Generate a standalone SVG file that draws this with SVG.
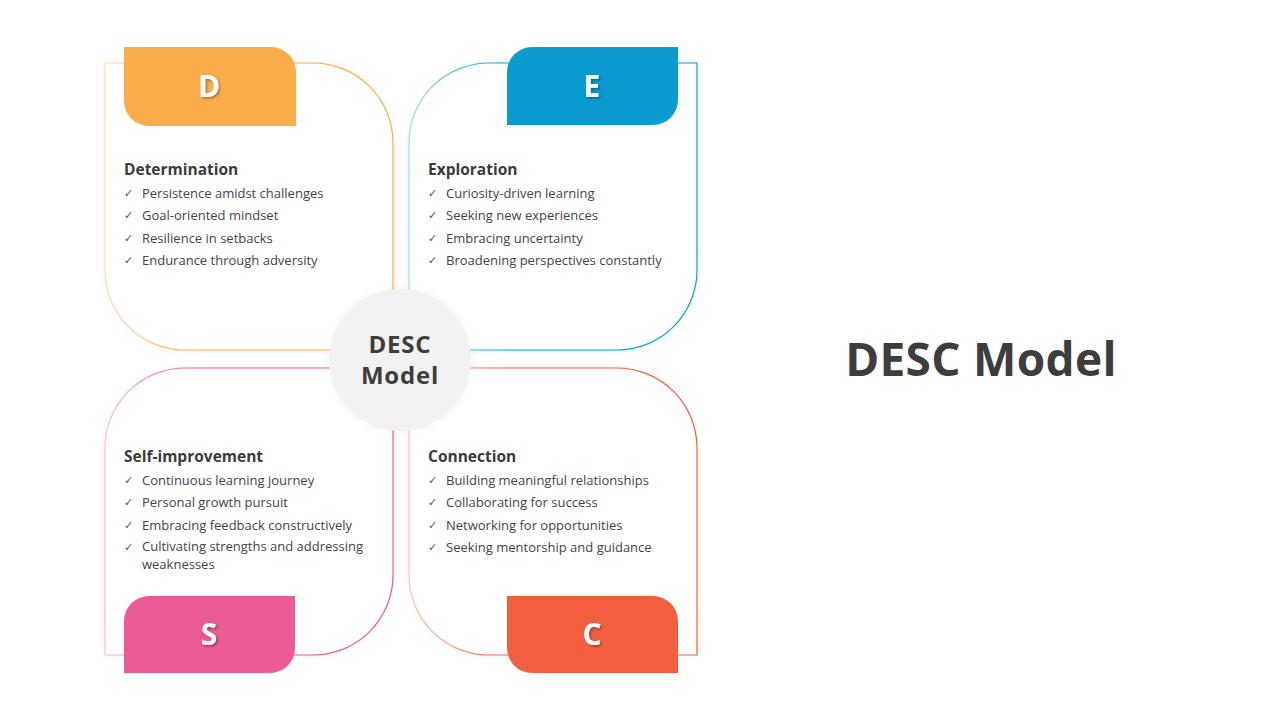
<svg xmlns="http://www.w3.org/2000/svg" width="1280" height="720" viewBox="0 0 1280 720">
<defs>
<style>
.hd{font-family:"Open Sans","Liberation Sans",sans-serif;font-weight:700;font-size:15.5px;fill:#3b3b3b}
.it{font-family:"Open Sans","Liberation Sans",sans-serif;font-size:13px;fill:#444}
.ck{font-family:"DejaVu Sans",sans-serif;font-size:11px;fill:#555}
.tab{font-family:"Open Sans","Liberation Sans",sans-serif;font-weight:700;font-size:30px;fill:#fff;text-anchor:middle}
.ctr{font-family:"Open Sans","Liberation Sans",sans-serif;font-weight:700;font-size:24px;fill:#3d3d3d;text-anchor:middle;letter-spacing:0.8px}
.ttl{font-family:"Open Sans","Liberation Sans",sans-serif;font-weight:700;font-size:46px;fill:#3d3d3d;text-anchor:middle;letter-spacing:0.3px}
.card{fill:#fff;stroke-width:1.2}
</style>
<linearGradient id="gD" x1="0" y1="0" x2="1" y2="0"><stop offset="0" stop-color="#FBAD4C" stop-opacity="0.4"/><stop offset="0.35" stop-color="#FBAD4C"/></linearGradient>
<linearGradient id="gE" x1="0" y1="0" x2="1" y2="0"><stop offset="0" stop-color="#0B9CCF" stop-opacity="0.35"/><stop offset="0.35" stop-color="#0B9CCF"/></linearGradient>
<linearGradient id="gS" x1="0" y1="0" x2="1" y2="0"><stop offset="0" stop-color="#EA5A93" stop-opacity="0.35"/><stop offset="0.35" stop-color="#EA5A93"/></linearGradient>
<linearGradient id="gC" x1="0" y1="0" x2="1" y2="0"><stop offset="0" stop-color="#F25F3E" stop-opacity="0.35"/><stop offset="0.35" stop-color="#F25F3E"/></linearGradient>
<filter id="sh" x="-20%" y="-20%" width="140%" height="140%"><feDropShadow dx="0" dy="0" stdDeviation="3" flood-color="#000" flood-opacity="0.06"/></filter>
<filter id="ts" x="-30%" y="-30%" width="160%" height="160%"><feDropShadow dx="1.5" dy="1.5" stdDeviation="0.8" flood-color="#000" flood-opacity="0.35"/></filter>
</defs>
<rect width="1280" height="720" fill="#fff"/>

<g id="card-D">
<path class="card" stroke="url(#gD)" filter="url(#sh)" d="M105,63 H313 A80,80 0 0 1 393,143 V350 H185 A80,80 0 0 1 105,270 Z"/>
<path fill="#FBAD4C" d="M124,47 H271 A25,25 0 0 1 296,72 V126 H149 A25,25 0 0 1 124,101 Z"/>
<text class="tab" x="209" y="97" filter="url(#ts)">D</text>
<text class="hd" x="124" y="175">Determination</text>
<text class="ck" x="124" y="197">✓</text><text class="it" x="142" y="198">Persistence amidst challenges</text>
<text class="ck" x="124" y="219">✓</text><text class="it" x="142" y="220">Goal-oriented mindset</text>
<text class="ck" x="124" y="242">✓</text><text class="it" x="142" y="243">Resilience in setbacks</text>
<text class="ck" x="124" y="264">✓</text><text class="it" x="142" y="265">Endurance through adversity</text>
</g>

<g id="card-E">
<path class="card" stroke="url(#gE)" filter="url(#sh)" d="M489,63 H697 V270 A80,80 0 0 1 617,350 H409 V143 A80,80 0 0 1 489,63 Z"/>
<path fill="#0B9CCF" d="M532,47 H678 V100 A25,25 0 0 1 653,125 H507 V72 A25,25 0 0 1 532,47 Z"/>
<text class="tab" x="592" y="97" filter="url(#ts)">E</text>
<text class="hd" x="428" y="175">Exploration</text>
<text class="ck" x="428" y="197">✓</text><text class="it" x="446" y="198">Curiosity-driven learning</text>
<text class="ck" x="428" y="219">✓</text><text class="it" x="446" y="220">Seeking new experiences</text>
<text class="ck" x="428" y="242">✓</text><text class="it" x="446" y="243">Embracing uncertainty</text>
<text class="ck" x="428" y="264">✓</text><text class="it" x="446" y="265">Broadening perspectives constantly</text>
</g>

<g id="card-S">
<path class="card" stroke="url(#gS)" filter="url(#sh)" d="M185,368 H393 V575 A80,80 0 0 1 313,655 H105 V448 A80,80 0 0 1 185,368 Z"/>
<path fill="#EA5A93" d="M149,596 H295 V648 A25,25 0 0 1 270,673 H124 V621 A25,25 0 0 1 149,596 Z"/>
<text class="tab" x="209" y="645" filter="url(#ts)">S</text>
<text class="hd" x="124" y="462">Self-improvement</text>
<text class="ck" x="124" y="484">✓</text><text class="it" x="142" y="485">Continuous learning journey</text>
<text class="ck" x="124" y="506">✓</text><text class="it" x="142" y="507">Personal growth pursuit</text>
<text class="ck" x="124" y="529">✓</text><text class="it" x="142" y="530">Embracing feedback constructively</text>
<text class="ck" x="124" y="551">✓</text><text class="it" x="142" y="551">Cultivating strengths and addressing</text>
<text class="it" x="142" y="569">weaknesses</text>
</g>

<g id="card-C">
<path class="card" stroke="url(#gC)" filter="url(#sh)" d="M409,368 H617 A80,80 0 0 1 697,448 V655 H489 A80,80 0 0 1 409,575 Z"/>
<path fill="#F25F3E" d="M507,596 H653 A25,25 0 0 1 678,621 V673 H532 A25,25 0 0 1 507,648 Z"/>
<text class="tab" x="592" y="645" filter="url(#ts)">C</text>
<text class="hd" x="428" y="462">Connection</text>
<text class="ck" x="428" y="484">✓</text><text class="it" x="446" y="485">Building meaningful relationships</text>
<text class="ck" x="428" y="506">✓</text><text class="it" x="446" y="507">Collaborating for success</text>
<text class="ck" x="428" y="529">✓</text><text class="it" x="446" y="530">Networking for opportunities</text>
<text class="ck" x="428" y="551">✓</text><text class="it" x="446" y="552">Seeking mentorship and guidance</text>
</g>

<g id="center">
<circle cx="400" cy="360" r="71" fill="#F1F1F1" filter="url(#sh)"/>
<text class="ctr" x="400" y="353">DESC</text>
<text class="ctr" x="400" y="384">Model</text>
</g>

<g id="connectors"></g>

<g id="title">
<text class="ttl" x="981" y="376">DESC Model</text>
</g>
</svg>
